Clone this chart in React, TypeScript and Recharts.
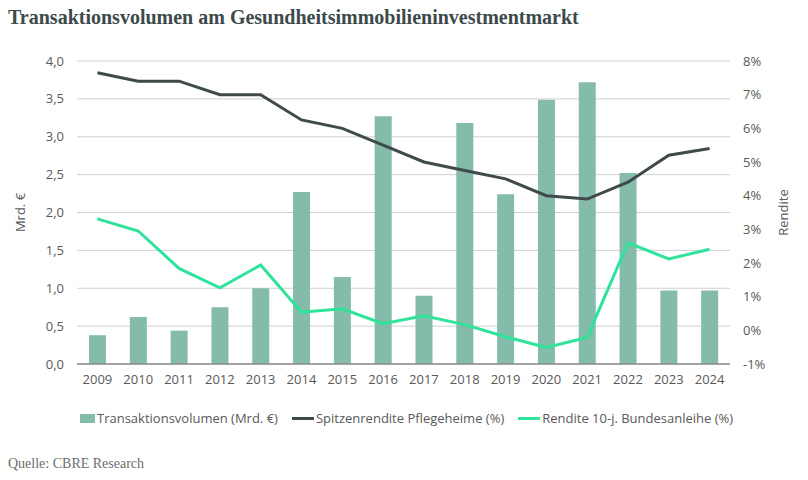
import React from 'react';
import {
  Bar,
  CartesianGrid,
  ComposedChart,
  Line,
  XAxis,
  YAxis,
} from 'recharts';

const YEARS = [
  '2009', '2010', '2011', '2012', '2013', '2014', '2015', '2016',
  '2017', '2018', '2019', '2020', '2021', '2022', '2023', '2024',
];
// Transaktionsvolumen in Mrd. €
const VOLUME = [0.38, 0.62, 0.44, 0.75, 1.0, 2.27, 1.15, 3.27, 0.9, 3.18, 2.24, 3.49, 3.72, 2.52, 0.97, 0.97];
// Spitzenrendite Pflegeheime in %
const PRIME_YIELD = [7.65, 7.4, 7.4, 7.0, 7.0, 6.25, 6.0, 5.5, 5.0, 4.75, 4.5, 4.0, 3.9, 4.4, 5.2, 5.4];
// Rendite 10-j. Bundesanleihe in %
const BUND_YIELD = [3.31, 2.95, 1.84, 1.26, 1.94, 0.54, 0.64, 0.2, 0.43, 0.17, -0.19, -0.51, -0.21, 2.6, 2.12, 2.41];

const LEFT_TICKS = [0, 0.5, 1, 1.5, 2, 2.5, 3, 3.5, 4];
const RIGHT_TICKS = [-1, 0, 1, 2, 3, 4, 5, 6, 7, 8];

const SERIES = [
  { key: 'volume', name: 'Transaktionsvolumen (Mrd. €)', color: '#84BBAB', type: 'bar' },
  { key: 'prime', name: 'Spitzenrendite Pflegeheime (%)', color: '#3F4A4B', type: 'line' },
  { key: 'bund', name: 'Rendite 10-j. Bundesanleihe (%)', color: '#2FE39B', type: 'line' },
];

const data = YEARS.map((year, i) => ({
  year,
  volume: VOLUME[i],
  prime: PRIME_YIELD[i],
  bund: BUND_YIELD[i],
}));

const FONT = '"Open Sans", "Noto Sans", sans-serif';
const TEXT = '#595959';
const tickStyle = { fontFamily: FONT, fontSize: 13, fill: TEXT };

const AxisTitle = ({ viewBox, value, dx }: any) => {
  const cx = viewBox.x + dx;
  const cy = viewBox.y + viewBox.height / 2;
  return (
    <text
      x={cx}
      y={cy}
      transform={`rotate(-90, ${cx}, ${cy})`}
      textAnchor="middle"
      dominantBaseline="central"
      style={{ fontFamily: FONT, fontSize: 13, fill: TEXT }}
    >
      {value}
    </text>
  );
};

export default function App() {
  return (
    <div style={{ position: 'absolute', left: 0, top: 0, width: 808, height: 480, background: '#fff' }}>
      <div
        style={{
          position: 'absolute',
          left: 8,
          top: 6,
          fontFamily: '"Liberation Serif", "Times New Roman", serif',
          fontWeight: 'bold',
          fontSize: 20,
          color: '#3D4A4B',
          whiteSpace: 'nowrap',
        }}
      >
        Transaktionsvolumen am Gesundheitsimmobilieninvestmentmarkt
      </div>

      <div style={{ position: 'absolute', left: 0, top: 0 }}>
        <ComposedChart
          width={808}
          height={400}
          data={data}
          margin={{ top: 61, right: 0, bottom: 6, left: 0 }}
        >
          <CartesianGrid vertical={false} stroke="#D0D0D0" yAxisId="left" />
          <XAxis
            dataKey="year"
            tick={tickStyle}
            tickLine={false}
            tickSize={0}
            tickMargin={11}
            height={30}
            axisLine={{ stroke: '#8C8C8C', strokeWidth: 1.5 }}
            interval={0}
          />
          <YAxis
            yAxisId="left"
            orientation="left"
            width={77}
            domain={[0, 4]}
            ticks={LEFT_TICKS}
            tick={tickStyle}
            tickLine={false}
            axisLine={false}
            tickSize={0}
            tickMargin={13}
            tickFormatter={(v: number) => v.toFixed(1).replace('.', ',')}
            label={<AxisTitle value="Mrd. €" dx={20} />}
          />
          <YAxis
            yAxisId="right"
            orientation="right"
            width={78}
            domain={[-1, 8]}
            ticks={RIGHT_TICKS}
            tick={tickStyle}
            tickLine={false}
            axisLine={false}
            tickSize={0}
            tickMargin={13}
            tickFormatter={(v: number) => `${v}%`}
            label={<AxisTitle value="Rendite" dx={53} />}
          />
          <Bar
            yAxisId="left"
            dataKey="volume"
            name={SERIES[0].name}
            fill={SERIES[0].color}
            barSize={17}
            isAnimationActive={false}
          />
          <Line
            yAxisId="right"
            dataKey="prime"
            name={SERIES[1].name}
            stroke={SERIES[1].color}
            strokeWidth={3}
            dot={false}
            type="linear"
            isAnimationActive={false}
          />
          <Line
            yAxisId="right"
            dataKey="bund"
            name={SERIES[2].name}
            stroke={SERIES[2].color}
            strokeWidth={3}
            dot={false}
            type="linear"
            isAnimationActive={false}
          />
        </ComposedChart>
      </div>

      {/* legend row */}
      <div
        style={{
          position: 'absolute',
          left: 80,
          top: 409,
          display: 'flex',
          alignItems: 'center',
          fontFamily: FONT,
          fontSize: 13,
          color: TEXT,
          whiteSpace: 'nowrap',
        }}
      >
        {SERIES.map((s) => (
          <div key={s.key} style={{ display: 'flex', alignItems: 'center', marginRight: 14 }}>
            <span
              style={{
                display: 'inline-block',
                width: s.type === 'bar' ? 15 : 22,
                height: s.type === 'bar' ? 9 : 3,
                background: s.color,
                marginRight: 2,
              }}
            />
            <span>{s.name}</span>
          </div>
        ))}
      </div>

      <div
        style={{
          position: 'absolute',
          left: 8,
          top: 456,
          fontFamily: '"Liberation Serif", "Times New Roman", serif',
          fontSize: 14,
          color: '#6E6E6E',
          whiteSpace: 'nowrap',
        }}
      >
        Quelle: CBRE Research
      </div>
    </div>
  );
}
